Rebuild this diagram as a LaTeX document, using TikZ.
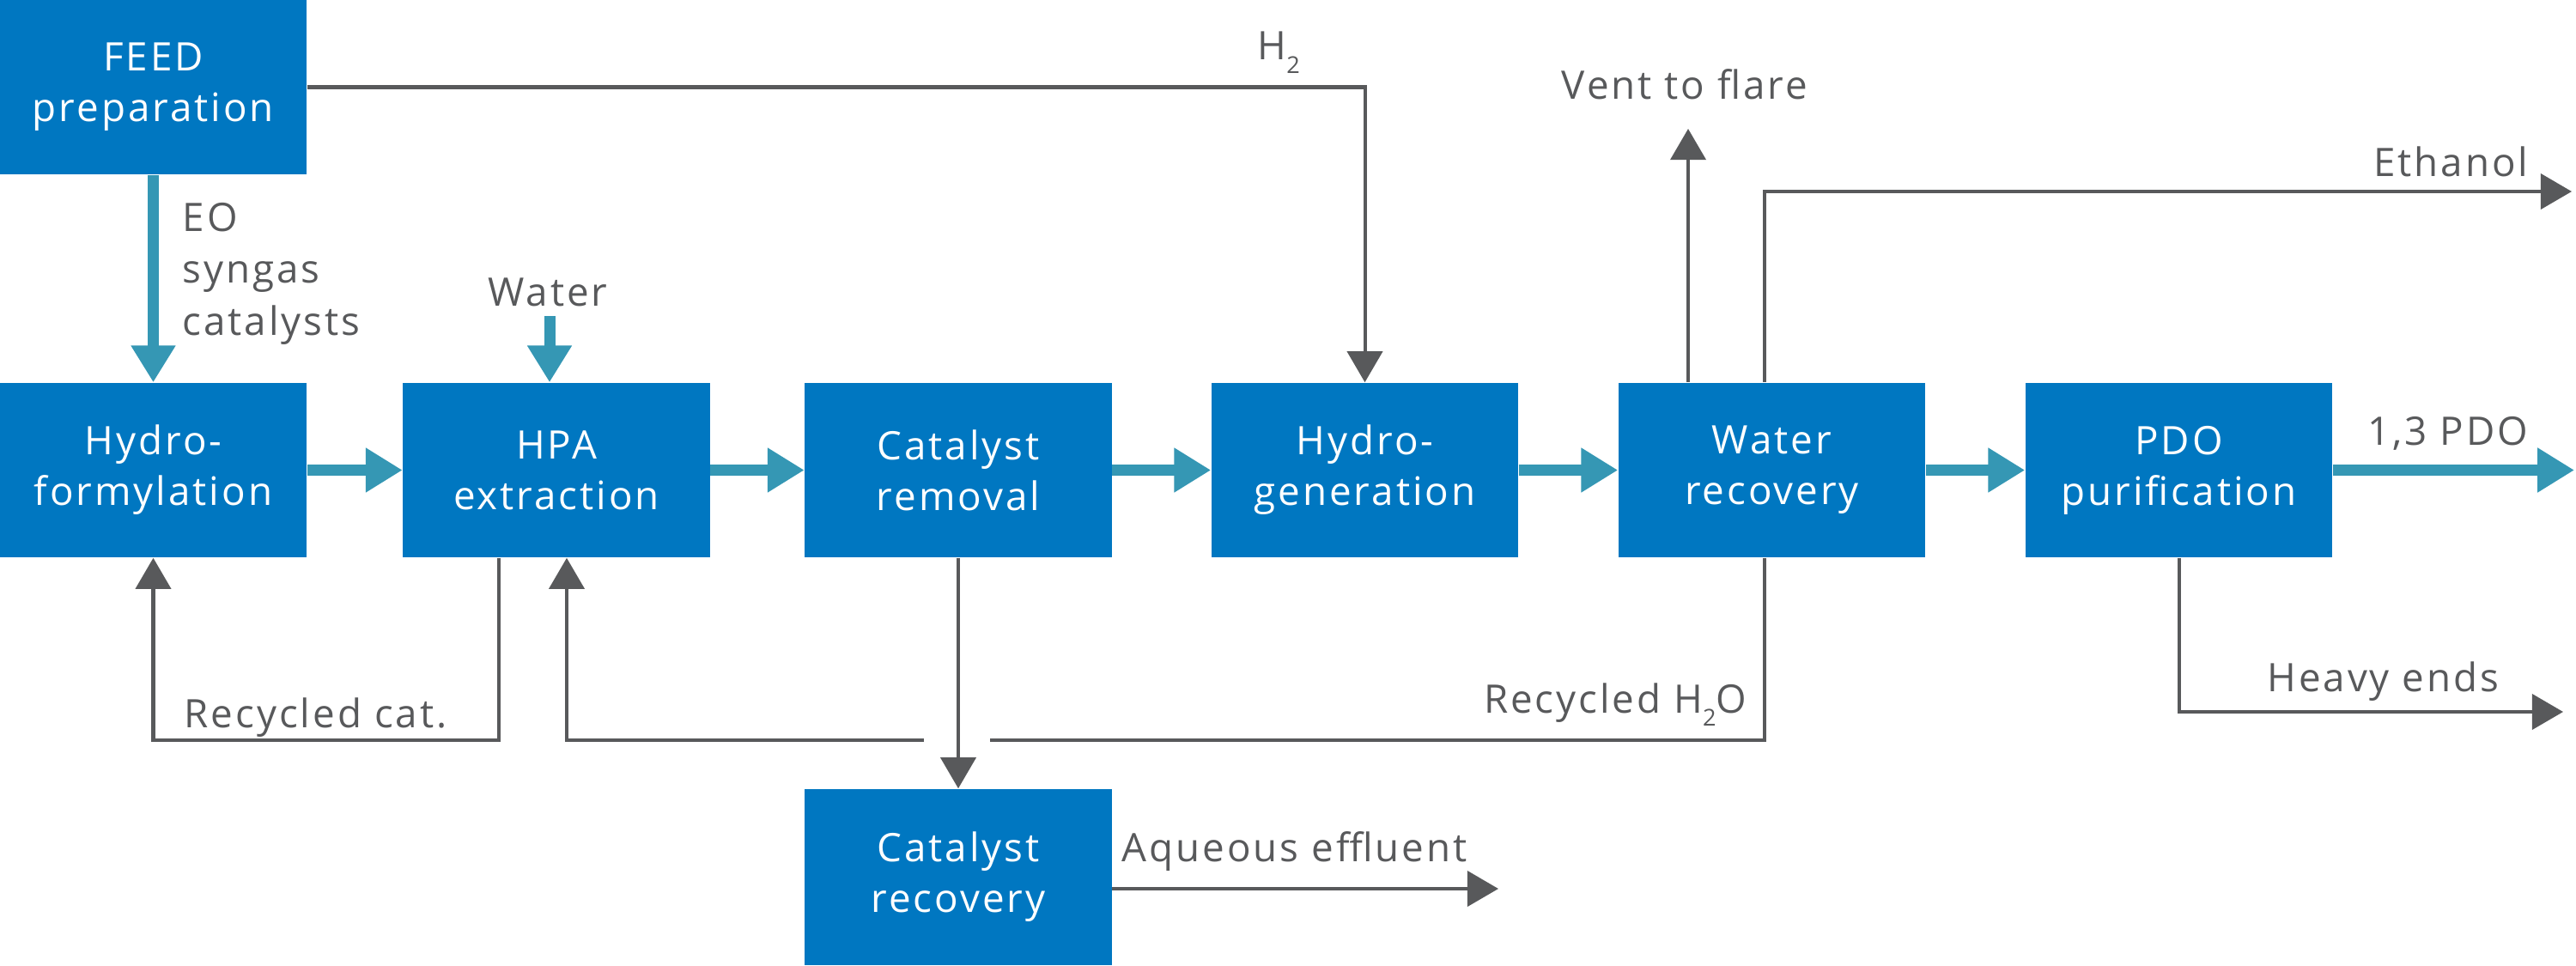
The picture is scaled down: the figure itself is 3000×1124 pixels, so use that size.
\documentclass[tikz,border=0pt]{standalone}
\usepackage{fontspec}
\setmainfont{Open Sans}[LetterSpace=6.5]
\usetikzlibrary{arrows.meta,positioning}
\definecolor{boxblue}{HTML}{0077C1}
\definecolor{flowteal}{HTML}{3597B4}
\definecolor{linegray}{HTML}{58595B}
\newcommand{\subtwo}{\raisebox{-4.5pt}{\fontsize{7.7pt}{8pt}\selectfont 2}}
\tikzset{
  procbox/.style={rectangle, fill=boxblue, text=white, inner sep=0pt,
    minimum width=3.57cm, minimum height=2.03cm, align=center,
    font=\fontsize{13pt}{16.8pt}\selectfont},
  lbl/.style={inner sep=0pt, text=linegray, font=\fontsize{13pt}{17.1pt}\selectfont},
  mainflow/.style={draw=flowteal, line width=3.7pt,
    -{Triangle[width=14pt,length=12.2pt]}, flowteal},
  sideflow/.style={draw=linegray, line width=1.15pt, line join=miter,
    -{Triangle[width=11.7pt,length=10.3pt]}, linegray},
  plainflow/.style={draw=linegray, line width=1.15pt, line join=miter}
}
\begin{document}
\begin{tikzpicture}[x=0.01cm, y=-0.01cm]
\useasboundingbox (0,0) rectangle (3000,1124);
% process boxes
\node[procbox] (feed) at (178.5,101.5) {FEED\\preparation};
\node[procbox] (hf)   at (178.5,547.5) {Hydro-\\formylation};
\node[procbox] (hpa)  at (648,547.5) {HPA\\extraction};
\node[procbox] (cr)   at (1116,547.5) {Catalyst\\removal};
\node[procbox] (hg)   at (1589.5,547.5) {Hydro-\\generation};
\node[procbox] (wr)   at (2063.5,547.5) {Water\\recovery};
\node[procbox] (pdo)  at (2537.5,547.5) {PDO\\purification};
\node[procbox, minimum height=2.05cm] (crec) at (1116,1021.5) {Catalyst\\recovery};

% helper coordinates
\coordinate (waterin) at (640,368);
\coordinate (pdoout) at (2998,547.5);
\coordinate (vent) at (1966,150);
\coordinate (ethc) at (2055,223);
\coordinate (eth) at (2995,223);
\coordinate (h2oc) at (2055,862);
\coordinate (gapR) at (1153,862);
\coordinate (gapL) at (1076,862);
\coordinate (hpain) at (660,862);
\coordinate (rcc) at (581,862);
\coordinate (heavy) at (2985,829);
\coordinate (aq) at (1745,1035);

% main flows
\draw[mainflow] (feed.south) -- (hf.north);
\draw[mainflow] (waterin) -- (waterin |- hpa.north);
\draw[mainflow] (hf.east) -- (hpa.west);
\draw[mainflow] (hpa.east) -- (cr.west);
\draw[mainflow] (cr.east) -- (hg.west);
\draw[mainflow] (hg.east) -- (wr.west);
\draw[mainflow] (wr.east) -- (pdo.west);
\draw[mainflow] (pdo.east) -- (pdoout);

% side flows
\draw[sideflow] (feed.east) -| (hg.north);
\draw[sideflow] (vent |- wr.north) -- (vent);
\draw[sideflow] (ethc |- wr.north) -- (ethc) -- (eth);
\draw[plainflow] (h2oc |- wr.south) -- (h2oc) -- (gapR);
\draw[sideflow] (gapL) -- (hpain) -- (hpain |- hpa.south);
\draw[sideflow] (cr.south) -- (crec.north);
\draw[sideflow] (rcc |- hpa.south) -- (rcc) -- (rcc -| hf.south) -- (hf.south);
\draw[sideflow] (pdo.south) -- (pdo.south |- heavy) -- (heavy);
\draw[sideflow] (crec.east |- aq) -- (aq);

% labels
\node[lbl, anchor=base west] (lh2) at (1464,70) {H\subtwo};
\node[lbl, anchor=base] (lvent) at (1962,115) {Vent to flare};
\node[lbl, anchor=base east] (leth) at (2945,205) {Ethanol};
\node[lbl, anchor=base east] (lpdo) at (2945,518) {1,3 PDO};
\node[lbl, anchor=base east] (lheavy) at (2911,805) {Heavy ends};
\node[lbl, anchor=base east] (lh2o) at (2035,830) {Recycled H\subtwo O};
\node[lbl, anchor=base west] (lrc) at (214,847) {Recycled cat.};
\node[lbl, anchor=base west] (laq) at (1306,1003) {Aqueous effluent};
\node[lbl, anchor=base] (lwater) at (638,356) {Water};
\node[lbl, anchor=north west, align=left] (leo) at (212,236) {EO\\syngas\\catalysts};
\end{tikzpicture}
\end{document}
